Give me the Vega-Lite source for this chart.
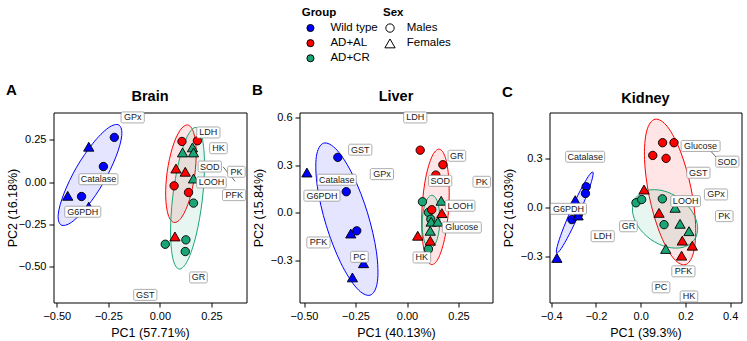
{
  "$schema": "https://vega.github.io/schema/vega-lite/v6.json",
  "autosize": {"type": "pad"},
  "padding": {"left": 5.5, "top": 6.5, "right": 0, "bottom": 0},
  "background": "white",
  "datasets": {
    "pts": [
      {"panel": "Brain", "group": "Wild type", "sex": "Males", "x": -0.221, "y": 0.264},
      {"panel": "Brain", "group": "Wild type", "sex": "Females", "x": -0.345, "y": 0.209},
      {"panel": "Brain", "group": "Wild type", "sex": "Males", "x": -0.274, "y": 0.092},
      {"panel": "Brain", "group": "Wild type", "sex": "Females", "x": -0.447, "y": -0.081},
      {"panel": "Brain", "group": "Wild type", "sex": "Males", "x": -0.38, "y": -0.085},
      {"panel": "Brain", "group": "Wild type", "sex": "Females", "x": -0.345, "y": -0.145},
      {"panel": "Brain", "group": "AD+AL", "sex": "Males", "x": 0.107, "y": 0.24},
      {"panel": "Brain", "group": "AD+AL", "sex": "Males", "x": 0.182, "y": 0.244},
      {"panel": "Brain", "group": "AD+AL", "sex": "Males", "x": 0.069, "y": -0.022},
      {"panel": "Brain", "group": "AD+AL", "sex": "Males", "x": 0.139, "y": -0.061},
      {"panel": "Brain", "group": "AD+AL", "sex": "Females", "x": 0.078, "y": 0.08},
      {"panel": "Brain", "group": "AD+AL", "sex": "Females", "x": 0.123, "y": 0.061},
      {"panel": "Brain", "group": "AD+AL", "sex": "Females", "x": 0.073, "y": -0.321},
      {"panel": "Brain", "group": "AD+CR", "sex": "Males", "x": 0.163, "y": -0.124},
      {"panel": "Brain", "group": "AD+CR", "sex": "Males", "x": 0.026, "y": -0.367},
      {"panel": "Brain", "group": "AD+CR", "sex": "Males", "x": 0.126, "y": -0.341},
      {"panel": "Brain", "group": "AD+CR", "sex": "Males", "x": 0.123, "y": -0.41},
      {"panel": "Brain", "group": "AD+CR", "sex": "Females", "x": 0.11, "y": 0.175},
      {"panel": "Brain", "group": "AD+CR", "sex": "Females", "x": 0.158, "y": 0.205},
      {"panel": "Brain", "group": "AD+CR", "sex": "Females", "x": 0.163, "y": 0.175},
      {"panel": "Brain", "group": "AD+CR", "sex": "Females", "x": 0.163, "y": 0.021},
      {"panel": "Liver", "group": "Wild type", "sex": "Males", "x": -0.336, "y": 0.348},
      {"panel": "Liver", "group": "Wild type", "sex": "Females", "x": -0.486, "y": 0.253},
      {"panel": "Liver", "group": "Wild type", "sex": "Males", "x": -0.295, "y": 0.133},
      {"panel": "Liver", "group": "Wild type", "sex": "Males", "x": -0.244, "y": -0.112},
      {"panel": "Liver", "group": "Wild type", "sex": "Females", "x": -0.273, "y": -0.129},
      {"panel": "Liver", "group": "Wild type", "sex": "Females", "x": -0.211, "y": -0.315},
      {"panel": "Liver", "group": "Wild type", "sex": "Females", "x": -0.265, "y": -0.404},
      {"panel": "Liver", "group": "AD+CR", "sex": "Males", "x": 0.075, "y": 0.07},
      {"panel": "Liver", "group": "AD+CR", "sex": "Males", "x": 0.104, "y": 0.003},
      {"panel": "Liver", "group": "AD+CR", "sex": "Males", "x": 0.1155, "y": -0.039},
      {"panel": "Liver", "group": "AD+CR", "sex": "Males", "x": 0.104, "y": -0.227},
      {"panel": "Liver", "group": "AD+CR", "sex": "Females", "x": 0.166, "y": 0.076},
      {"panel": "Liver", "group": "AD+CR", "sex": "Females", "x": 0.117, "y": -0.055},
      {"panel": "Liver", "group": "AD+CR", "sex": "Females", "x": 0.1495, "y": -0.055},
      {"panel": "Liver", "group": "AD+CR", "sex": "Females", "x": 0.1126, "y": -0.112},
      {"panel": "Liver", "group": "AD+AL", "sex": "Males", "x": 0.064, "y": 0.393},
      {"panel": "Liver", "group": "AD+AL", "sex": "Males", "x": 0.174, "y": 0.302},
      {"panel": "Liver", "group": "AD+AL", "sex": "Males", "x": 0.14, "y": 0.237},
      {"panel": "Liver", "group": "AD+AL", "sex": "Males", "x": 0.12, "y": 0.02},
      {"panel": "Liver", "group": "AD+AL", "sex": "Females", "x": 0.169, "y": -0.001},
      {"panel": "Liver", "group": "AD+AL", "sex": "Females", "x": 0.052, "y": -0.143},
      {"panel": "Liver", "group": "AD+AL", "sex": "Females", "x": 0.113, "y": -0.174},
      {"panel": "Kidney", "group": "Wild type", "sex": "Males", "x": -0.244, "y": 0.126},
      {"panel": "Kidney", "group": "Wild type", "sex": "Males", "x": -0.247, "y": 0.085},
      {"panel": "Kidney", "group": "Wild type", "sex": "Males", "x": -0.308, "y": -0.075},
      {"panel": "Kidney", "group": "Wild type", "sex": "Males", "x": -0.279, "y": -0.046},
      {"panel": "Kidney", "group": "Wild type", "sex": "Females", "x": -0.293, "y": 0.044},
      {"panel": "Kidney", "group": "Wild type", "sex": "Females", "x": -0.28, "y": -0.05},
      {"panel": "Kidney", "group": "Wild type", "sex": "Females", "x": -0.375, "y": -0.31},
      {"panel": "Kidney", "group": "AD+CR", "sex": "Males", "x": -0.021, "y": 0.028},
      {"panel": "Kidney", "group": "AD+CR", "sex": "Males", "x": 0.0045, "y": 0.048},
      {"panel": "Kidney", "group": "AD+CR", "sex": "Males", "x": 0.097, "y": 0.052},
      {"panel": "Kidney", "group": "AD+CR", "sex": "Males", "x": 0.1045, "y": -0.106},
      {"panel": "Kidney", "group": "AD+CR", "sex": "Females", "x": 0.154, "y": -0.003},
      {"panel": "Kidney", "group": "AD+CR", "sex": "Females", "x": 0.176, "y": -0.101},
      {"panel": "Kidney", "group": "AD+CR", "sex": "Females", "x": 0.216, "y": -0.146},
      {"panel": "Kidney", "group": "AD+CR", "sex": "Females", "x": 0.112, "y": -0.255},
      {"panel": "Kidney", "group": "AD+AL", "sex": "Males", "x": 0.098, "y": 0.396},
      {"panel": "Kidney", "group": "AD+AL", "sex": "Males", "x": 0.149, "y": 0.396},
      {"panel": "Kidney", "group": "AD+AL", "sex": "Males", "x": 0.054, "y": 0.318},
      {"panel": "Kidney", "group": "AD+AL", "sex": "Males", "x": 0.1135, "y": 0.3},
      {"panel": "Kidney", "group": "AD+AL", "sex": "Females", "x": 0.015, "y": 0.109},
      {"panel": "Kidney", "group": "AD+AL", "sex": "Females", "x": 0.082, "y": -0.034},
      {"panel": "Kidney", "group": "AD+AL", "sex": "Females", "x": 0.186, "y": -0.204},
      {"panel": "Kidney", "group": "AD+AL", "sex": "Females", "x": 0.231, "y": -0.235},
      {"panel": "Kidney", "group": "AD+AL", "sex": "Females", "x": 0.183, "y": -0.296}
    ],
    "ell": [
      {"panel": "Brain", "group": "Wild type", "i": 0, "x": -0.199, "y": 0.337},
      {"panel": "Brain", "group": "Wild type", "i": 1, "x": -0.185, "y": 0.2745},
      {"panel": "Brain", "group": "Wild type", "i": 2, "x": -0.213, "y": 0.15},
      {"panel": "Brain", "group": "Wild type", "i": 3, "x": -0.274, "y": -0.004},
      {"panel": "Brain", "group": "Wild type", "i": 4, "x": -0.353, "y": -0.145},
      {"panel": "Brain", "group": "Wild type", "i": 5, "x": -0.428, "y": -0.2365},
      {"panel": "Brain", "group": "Wild type", "i": 6, "x": -0.479, "y": -0.253},
      {"panel": "Brain", "group": "Wild type", "i": 7, "x": -0.493, "y": -0.1905},
      {"panel": "Brain", "group": "Wild type", "i": 8, "x": -0.465, "y": -0.066},
      {"panel": "Brain", "group": "Wild type", "i": 9, "x": -0.404, "y": 0.088},
      {"panel": "Brain", "group": "Wild type", "i": 10, "x": -0.325, "y": 0.229},
      {"panel": "Brain", "group": "Wild type", "i": 11, "x": -0.25, "y": 0.3205},
      {"panel": "Brain", "group": "AD+AL", "i": 0, "x": 0.1347, "y": 0.3375},
      {"panel": "Brain", "group": "AD+AL", "i": 1, "x": 0.1636, "y": 0.2932},
      {"panel": "Brain", "group": "AD+AL", "i": 2, "x": 0.176, "y": 0.1837},
      {"panel": "Brain", "group": "AD+AL", "i": 3, "x": 0.1686, "y": 0.0382},
      {"panel": "Brain", "group": "AD+AL", "i": 4, "x": 0.1433, "y": -0.1043},
      {"panel": "Brain", "group": "AD+AL", "i": 5, "x": 0.107, "y": -0.2056},
      {"panel": "Brain", "group": "AD+AL", "i": 6, "x": 0.0693, "y": -0.2385},
      {"panel": "Brain", "group": "AD+AL", "i": 7, "x": 0.0404, "y": -0.1942},
      {"panel": "Brain", "group": "AD+AL", "i": 8, "x": 0.028, "y": -0.0847},
      {"panel": "Brain", "group": "AD+AL", "i": 9, "x": 0.0354, "y": 0.0608},
      {"panel": "Brain", "group": "AD+AL", "i": 10, "x": 0.0607, "y": 0.2033},
      {"panel": "Brain", "group": "AD+AL", "i": 11, "x": 0.097, "y": 0.3046},
      {"panel": "Brain", "group": "AD+CR", "i": 0, "x": 0.1746, "y": 0.3225},
      {"panel": "Brain", "group": "AD+CR", "i": 1, "x": 0.205, "y": 0.2613},
      {"panel": "Brain", "group": "AD+CR", "i": 2, "x": 0.2163, "y": 0.1045},
      {"panel": "Brain", "group": "AD+CR", "i": 3, "x": 0.2056, "y": -0.1059},
      {"panel": "Brain", "group": "AD+CR", "i": 4, "x": 0.1757, "y": -0.3135},
      {"panel": "Brain", "group": "AD+CR", "i": 5, "x": 0.1346, "y": -0.4627},
      {"panel": "Brain", "group": "AD+CR", "i": 6, "x": 0.0934, "y": -0.5135},
      {"panel": "Brain", "group": "AD+CR", "i": 7, "x": 0.063, "y": -0.4523},
      {"panel": "Brain", "group": "AD+CR", "i": 8, "x": 0.0517, "y": -0.2955},
      {"panel": "Brain", "group": "AD+CR", "i": 9, "x": 0.0624, "y": -0.0851},
      {"panel": "Brain", "group": "AD+CR", "i": 10, "x": 0.0923, "y": 0.1225},
      {"panel": "Brain", "group": "AD+CR", "i": 11, "x": 0.1334, "y": 0.2717},
      {"panel": "Liver", "group": "Wild type", "i": 0, "x": -0.405, "y": 0.437},
      {"panel": "Liver", "group": "Wild type", "i": 1, "x": -0.3399, "y": 0.3931},
      {"panel": "Liver", "group": "Wild type", "i": 2, "x": -0.2618, "y": 0.2334},
      {"panel": "Liver", "group": "Wild type", "i": 3, "x": -0.1918, "y": 0.0007},
      {"panel": "Liver", "group": "Wild type", "i": 4, "x": -0.1486, "y": -0.2426},
      {"panel": "Liver", "group": "Wild type", "i": 5, "x": -0.1439, "y": -0.4313},
      {"panel": "Liver", "group": "Wild type", "i": 6, "x": -0.1789, "y": -0.515},
      {"panel": "Liver", "group": "Wild type", "i": 7, "x": -0.2441, "y": -0.4711},
      {"panel": "Liver", "group": "Wild type", "i": 8, "x": -0.3222, "y": -0.3114},
      {"panel": "Liver", "group": "Wild type", "i": 9, "x": -0.3922, "y": -0.0787},
      {"panel": "Liver", "group": "Wild type", "i": 10, "x": -0.4354, "y": 0.1646},
      {"panel": "Liver", "group": "Wild type", "i": 11, "x": -0.4401, "y": 0.3533},
      {"panel": "Liver", "group": "AD+AL", "i": 0, "x": 0.156, "y": 0.3995},
      {"panel": "Liver", "group": "AD+AL", "i": 1, "x": 0.1858, "y": 0.3483},
      {"panel": "Liver", "group": "AD+AL", "i": 2, "x": 0.2028, "y": 0.214},
      {"panel": "Liver", "group": "AD+AL", "i": 3, "x": 0.2024, "y": 0.0324},
      {"panel": "Liver", "group": "AD+AL", "i": 4, "x": 0.1848, "y": -0.1476},
      {"panel": "Liver", "group": "AD+AL", "i": 5, "x": 0.1546, "y": -0.2779},
      {"panel": "Liver", "group": "AD+AL", "i": 6, "x": 0.12, "y": -0.3235},
      {"panel": "Liver", "group": "AD+AL", "i": 7, "x": 0.0902, "y": -0.2723},
      {"panel": "Liver", "group": "AD+AL", "i": 8, "x": 0.0732, "y": -0.138},
      {"panel": "Liver", "group": "AD+AL", "i": 9, "x": 0.0736, "y": 0.0436},
      {"panel": "Liver", "group": "AD+AL", "i": 10, "x": 0.0912, "y": 0.2236},
      {"panel": "Liver", "group": "AD+AL", "i": 11, "x": 0.1214, "y": 0.3539},
      {"panel": "Liver", "group": "AD+CR", "i": 0, "x": 0.1205, "y": 0.111},
      {"panel": "Liver", "group": "AD+CR", "i": 1, "x": 0.1414, "y": 0.0886},
      {"panel": "Liver", "group": "AD+CR", "i": 2, "x": 0.1555, "y": 0.0275},
      {"panel": "Liver", "group": "AD+CR", "i": 3, "x": 0.1592, "y": -0.056},
      {"panel": "Liver", "group": "AD+CR", "i": 4, "x": 0.1515, "y": -0.1395},
      {"panel": "Liver", "group": "AD+CR", "i": 5, "x": 0.1344, "y": -0.2006},
      {"panel": "Liver", "group": "AD+CR", "i": 6, "x": 0.1125, "y": -0.223},
      {"panel": "Liver", "group": "AD+CR", "i": 7, "x": 0.0916, "y": -0.2006},
      {"panel": "Liver", "group": "AD+CR", "i": 8, "x": 0.0775, "y": -0.1395},
      {"panel": "Liver", "group": "AD+CR", "i": 9, "x": 0.0738, "y": -0.056},
      {"panel": "Liver", "group": "AD+CR", "i": 10, "x": 0.0815, "y": 0.0275},
      {"panel": "Liver", "group": "AD+CR", "i": 11, "x": 0.0986, "y": 0.0886},
      {"panel": "Kidney", "group": "Wild type", "i": 0, "x": -0.2146, "y": 0.2163},
      {"panel": "Kidney", "group": "Wild type", "i": 1, "x": -0.2162, "y": 0.1775},
      {"panel": "Kidney", "group": "Wild type", "i": 2, "x": -0.239, "y": 0.0826},
      {"panel": "Kidney", "group": "Wild type", "i": 3, "x": -0.2767, "y": -0.0429},
      {"panel": "Kidney", "group": "Wild type", "i": 4, "x": -0.3194, "y": -0.1654},
      {"panel": "Kidney", "group": "Wild type", "i": 5, "x": -0.3554, "y": -0.2521},
      {"panel": "Kidney", "group": "Wild type", "i": 6, "x": -0.3754, "y": -0.2797},
      {"panel": "Kidney", "group": "Wild type", "i": 7, "x": -0.3738, "y": -0.2409},
      {"panel": "Kidney", "group": "Wild type", "i": 8, "x": -0.351, "y": -0.146},
      {"panel": "Kidney", "group": "Wild type", "i": 9, "x": -0.3133, "y": -0.0205},
      {"panel": "Kidney", "group": "Wild type", "i": 10, "x": -0.2706, "y": 0.102},
      {"panel": "Kidney", "group": "Wild type", "i": 11, "x": -0.2346, "y": 0.1887},
      {"panel": "Kidney", "group": "AD+AL", "i": 0, "x": 0.0644, "y": 0.5396},
      {"panel": "Kidney", "group": "AD+AL", "i": 1, "x": 0.1201, "y": 0.4932},
      {"panel": "Kidney", "group": "AD+AL", "i": 2, "x": 0.1787, "y": 0.3398},
      {"panel": "Kidney", "group": "AD+AL", "i": 3, "x": 0.2247, "y": 0.1206},
      {"panel": "Kidney", "group": "AD+AL", "i": 4, "x": 0.2457, "y": -0.1058},
      {"panel": "Kidney", "group": "AD+AL", "i": 5, "x": 0.2361, "y": -0.2786},
      {"panel": "Kidney", "group": "AD+AL", "i": 6, "x": 0.1984, "y": -0.3516},
      {"panel": "Kidney", "group": "AD+AL", "i": 7, "x": 0.1427, "y": -0.3052},
      {"panel": "Kidney", "group": "AD+AL", "i": 8, "x": 0.0841, "y": -0.1518},
      {"panel": "Kidney", "group": "AD+AL", "i": 9, "x": 0.0381, "y": 0.0674},
      {"panel": "Kidney", "group": "AD+AL", "i": 10, "x": 0.0171, "y": 0.2938},
      {"panel": "Kidney", "group": "AD+AL", "i": 11, "x": 0.0267, "y": 0.4666},
      {"panel": "Kidney", "group": "AD+CR", "i": 0, "x": 0.24, "y": -0.1992},
      {"panel": "Kidney", "group": "AD+CR", "i": 1, "x": 0.19, "y": -0.2446},
      {"panel": "Kidney", "group": "AD+CR", "i": 2, "x": 0.1184, "y": -0.2433},
      {"panel": "Kidney", "group": "AD+CR", "i": 3, "x": 0.0442, "y": -0.1958},
      {"panel": "Kidney", "group": "AD+CR", "i": 4, "x": -0.0126, "y": -0.1147},
      {"panel": "Kidney", "group": "AD+CR", "i": 5, "x": -0.0368, "y": -0.022},
      {"panel": "Kidney", "group": "AD+CR", "i": 6, "x": -0.022, "y": 0.0578},
      {"panel": "Kidney", "group": "AD+CR", "i": 7, "x": 0.028, "y": 0.1032},
      {"panel": "Kidney", "group": "AD+CR", "i": 8, "x": 0.0996, "y": 0.1019},
      {"panel": "Kidney", "group": "AD+CR", "i": 9, "x": 0.1738, "y": 0.0544},
      {"panel": "Kidney", "group": "AD+CR", "i": 10, "x": 0.2306, "y": -0.0267},
      {"panel": "Kidney", "group": "AD+CR", "i": 11, "x": 0.2548, "y": -0.1194}
    ],
    "labs": [
      {"panel": "Brain", "label": "GPx", "x": -0.132, "y": 0.382},
      {"panel": "Brain", "label": "Catalase", "x": -0.298, "y": 0.017},
      {"panel": "Brain", "label": "G6PDH", "x": -0.374, "y": -0.175},
      {"panel": "Brain", "label": "GST", "x": -0.071, "y": -0.666},
      {"panel": "Brain", "label": "LDH", "x": 0.235, "y": 0.293},
      {"panel": "Brain", "label": "HK", "x": 0.284, "y": 0.2},
      {"panel": "Brain", "label": "SOD", "x": 0.242, "y": 0.092},
      {"panel": "Brain", "label": "PK", "x": 0.371, "y": 0.061},
      {"panel": "Brain", "label": "LOOH", "x": 0.25, "y": -0.002},
      {"panel": "Brain", "label": "PFK", "x": 0.36, "y": -0.077},
      {"panel": "Brain", "label": "GR", "x": 0.187, "y": -0.563},
      {"panel": "Liver", "label": "LDH", "x": 0.04, "y": 0.598},
      {"panel": "Liver", "label": "GST", "x": -0.227, "y": 0.396},
      {"panel": "Liver", "label": "GPx", "x": -0.122, "y": 0.243},
      {"panel": "Liver", "label": "Catalase", "x": -0.341, "y": 0.208},
      {"panel": "Liver", "label": "G6PDH", "x": -0.413, "y": 0.108},
      {"panel": "Liver", "label": "PFK", "x": -0.43, "y": -0.185},
      {"panel": "Liver", "label": "PC", "x": -0.231, "y": -0.275},
      {"panel": "Liver", "label": "GR", "x": 0.242, "y": 0.358},
      {"panel": "Liver", "label": "SOD", "x": 0.161, "y": 0.201},
      {"panel": "Liver", "label": "PK", "x": 0.363, "y": 0.195},
      {"panel": "Liver", "label": "LOOH", "x": 0.258, "y": 0.045},
      {"panel": "Liver", "label": "Glucose", "x": 0.266, "y": -0.091},
      {"panel": "Liver", "label": "HK", "x": 0.072, "y": -0.279},
      {"panel": "Kidney", "label": "Catalase", "x": -0.2485, "y": 0.31},
      {"panel": "Kidney", "label": "G6PDH", "x": -0.323, "y": -0.009},
      {"panel": "Kidney", "label": "LDH", "x": -0.17, "y": -0.177},
      {"panel": "Kidney", "label": "GR", "x": -0.055, "y": -0.116},
      {"panel": "Kidney", "label": "Glucose", "x": 0.268, "y": 0.376},
      {"panel": "Kidney", "label": "SOD", "x": 0.3875, "y": 0.28},
      {"panel": "Kidney", "label": "GST", "x": 0.258, "y": 0.212},
      {"panel": "Kidney", "label": "GPx", "x": 0.337, "y": 0.079},
      {"panel": "Kidney", "label": "LOOH", "x": 0.201, "y": 0.038},
      {"panel": "Kidney", "label": "PK", "x": 0.374, "y": -0.054},
      {"panel": "Kidney", "label": "PFK", "x": 0.191, "y": -0.392},
      {"panel": "Kidney", "label": "PC", "x": 0.091, "y": -0.49},
      {"panel": "Kidney", "label": "HK", "x": 0.216, "y": -0.546}
    ],
    "segs": [
      {"panel": "Brain", "x": 0.3065, "y": 0.0905, "x2": 0.332, "y2": 0.051},
      {"panel": "Brain", "x": 0.344, "y": 0.037, "x2": 0.3645, "y2": 0.004},
      {"panel": "Kidney", "x": 0.313, "y": 0.345, "x2": 0.337, "y2": 0.308}
    ]
  },
  "spacing": 8,
  "hconcat": [
    {
      "spacing": 3,
      "hconcat": [
        {
          "title": {"text": "A", "anchor": "start", "frame": "bounds", "fontSize": 15, "offset": 0, "dy": 9},
          "hconcat": [
            {
              "width": 193,
              "height": 190,
              "title": "Brain",
              "encoding": {
                "x": {"field": "x", "type": "quantitative", "scale": {"domain": [-0.516, 0.42], "nice": false, "zero": false}, "axis": {"title": "PC1 (57.71%)", "values": [-0.5, -0.25, 0, 0.25], "format": ".2f"}},
                "y": {"field": "y", "type": "quantitative", "scale": {"domain": [-0.711, 0.411], "nice": false, "zero": false}, "axis": {"title": "PC2 (16.18%)", "values": [-0.5, -0.25, 0, 0.25], "format": ".2f"}}
              },
              "layer": [
                {
                  "data": {"name": "ell"},
                  "transform": [{"filter": {"field": "panel", "equal": "Brain"}}],
                  "mark": {"type": "line", "interpolate": "cardinal-closed", "strokeWidth": 1, "fillOpacity": 0.1},
                  "encoding": {
                    "stroke": {"field": "group", "type": "nominal", "scale": {"domain": ["AD+AL", "AD+CR", "Wild type"], "range": ["#FF0000", "#1AA575", "#0000FF"]}, "legend": null},
                    "fill": {"field": "group", "type": "nominal", "scale": {"domain": ["AD+AL", "AD+CR", "Wild type"], "range": ["#FF0000", "#1AA575", "#0000FF"]}, "legend": null},
                    "order": {"field": "i", "type": "quantitative"}
                  }
                },
                {
                  "data": {"name": "pts"},
                  "transform": [{"filter": {"field": "panel", "equal": "Brain"}}],
                  "mark": {"type": "point", "filled": true, "opacity": 1, "stroke": "black", "strokeWidth": 0.9},
                  "encoding": {
                    "color": {"field": "group", "type": "nominal", "scale": {"domain": ["Wild type", "AD+AL", "AD+CR"], "range": ["#0000FF", "#FF0000", "#1AA575"]}, "legend": {"title": "Group", "orient": "none", "legendX": 248.2, "legendY": -105.5, "symbolType": "circle", "symbolSize": 50, "symbolOffset": 3, "labelOffset": 14.2, "rowPadding": 2.1, "symbolStrokeColor": "black", "symbolStrokeWidth": 1}},
                    "shape": {"field": "sex", "type": "nominal", "scale": {"domain": ["Males", "Females"], "range": ["circle", "triangle-up"]}, "legend": {"title": "Sex", "orient": "none", "legendX": 329.5, "legendY": -105.5, "symbolOffset": 1, "labelOffset": 10.75, "rowPadding": 2.1, "symbolFillColor": "transparent", "symbolStrokeColor": "black", "symbolStrokeWidth": 1}},
                    "size": {"field": "sex", "type": "nominal", "scale": {"type": "ordinal", "domain": ["Males", "Females"], "range": [70, 105]}, "legend": {"title": "Sex", "orient": "none", "legendX": 329.5, "legendY": -105.5, "symbolOffset": 1, "labelOffset": 10.75, "rowPadding": 2.1, "symbolFillColor": "transparent", "symbolStrokeColor": "black", "symbolStrokeWidth": 1}}
                  }
                },
                {
                  "data": {"name": "segs"},
                  "transform": [{"filter": {"field": "panel", "equal": "Brain"}}],
                  "mark": {"type": "rule", "color": "black", "strokeWidth": 0.6},
                  "encoding": {"x2": {"field": "x2"}, "y2": {"field": "y2"}}
                },
                {
                  "data": {"name": "labs"},
                  "transform": [{"filter": {"and": [{"field": "panel", "equal": "Brain"}, {"field": "label", "oneOf": ["HK", "PK", "GR", "PC"]}]}}],
                  "mark": {"type": "point", "shape": "M-7.3,-5.5H7.3A1.5,1.5 0 0 1 8.8,-4V4A1.5,1.5 0 0 1 7.3,5.5H-7.3A1.5,1.5 0 0 1 -8.8,4V-4A1.5,1.5 0 0 1 -7.3,-5.5Z", "size": 4, "filled": true, "fill": "white", "stroke": "#8a8a8a", "strokeWidth": 0.7, "opacity": 1}
                },
                {
                  "data": {"name": "labs"},
                  "transform": [{"filter": {"and": [{"field": "panel", "equal": "Brain"}, {"field": "label", "oneOf": ["GPx", "GST", "LDH", "SOD", "PFK"]}]}}],
                  "mark": {"type": "point", "shape": "M-10.1,-5.5H10.1A1.5,1.5 0 0 1 11.6,-4V4A1.5,1.5 0 0 1 10.1,5.5H-10.1A1.5,1.5 0 0 1 -11.6,4V-4A1.5,1.5 0 0 1 -10.1,-5.5Z", "size": 4, "filled": true, "fill": "white", "stroke": "#8a8a8a", "strokeWidth": 0.7, "opacity": 1}
                },
                {
                  "data": {"name": "labs"},
                  "transform": [{"filter": {"and": [{"field": "panel", "equal": "Brain"}, {"field": "label", "equal": "LOOH"}]}}],
                  "mark": {"type": "point", "shape": "M-13.3,-5.5H13.3A1.5,1.5 0 0 1 14.8,-4V4A1.5,1.5 0 0 1 13.3,5.5H-13.3A1.5,1.5 0 0 1 -14.8,4V-4A1.5,1.5 0 0 1 -13.3,-5.5Z", "size": 4, "filled": true, "fill": "white", "stroke": "#8a8a8a", "strokeWidth": 0.7, "opacity": 1}
                },
                {
                  "data": {"name": "labs"},
                  "transform": [{"filter": {"and": [{"field": "panel", "equal": "Brain"}, {"field": "label", "equal": "G6PDH"}]}}],
                  "mark": {"type": "point", "shape": "M-16.5,-5.5H16.5A1.5,1.5 0 0 1 18,-4V4A1.5,1.5 0 0 1 16.5,5.5H-16.5A1.5,1.5 0 0 1 -18,4V-4A1.5,1.5 0 0 1 -16.5,-5.5Z", "size": 4, "filled": true, "fill": "white", "stroke": "#8a8a8a", "strokeWidth": 0.7, "opacity": 1}
                },
                {
                  "data": {"name": "labs"},
                  "transform": [{"filter": {"and": [{"field": "panel", "equal": "Brain"}, {"field": "label", "oneOf": ["Catalase", "Glucose"]}]}}],
                  "mark": {"type": "point", "shape": "M-18,-5.5H18A1.5,1.5 0 0 1 19.5,-4V4A1.5,1.5 0 0 1 18,5.5H-18A1.5,1.5 0 0 1 -19.5,4V-4A1.5,1.5 0 0 1 -18,-5.5Z", "size": 4, "filled": true, "fill": "white", "stroke": "#8a8a8a", "strokeWidth": 0.7, "opacity": 1}
                },
                {
                  "data": {"name": "labs"},
                  "transform": [{"filter": {"field": "panel", "equal": "Brain"}}],
                  "mark": {"type": "text", "fontSize": 9, "color": "#1a1a1a"},
                  "encoding": {"text": {"field": "label"}}
                }
              ]
            }
          ]
        },
        {
          "title": {"text": "B", "anchor": "start", "frame": "bounds", "fontSize": 15, "offset": 0, "dy": 9},
          "hconcat": [
            {
              "width": 193,
              "height": 190,
              "title": "Liver",
              "encoding": {
                "x": {"field": "x", "type": "quantitative", "scale": {"domain": [-0.522, 0.415], "nice": false, "zero": false}, "axis": {"title": "PC1 (40.13%)", "values": [-0.5, -0.25, 0, 0.25], "format": ".2f"}},
                "y": {"field": "y", "type": "quantitative", "scale": {"domain": [-0.561, 0.629], "nice": false, "zero": false}, "axis": {"title": "PC2 (15.84%)", "values": [-0.3, 0, 0.3, 0.6], "format": ".1f"}}
              },
              "layer": [
                {
                  "data": {"name": "ell"},
                  "transform": [{"filter": {"field": "panel", "equal": "Liver"}}],
                  "mark": {"type": "line", "interpolate": "cardinal-closed", "strokeWidth": 1, "fillOpacity": 0.1},
                  "encoding": {
                    "stroke": {"field": "group", "type": "nominal", "scale": {"domain": ["AD+AL", "AD+CR", "Wild type"], "range": ["#FF0000", "#1AA575", "#0000FF"]}, "legend": null},
                    "fill": {"field": "group", "type": "nominal", "scale": {"domain": ["AD+AL", "AD+CR", "Wild type"], "range": ["#FF0000", "#1AA575", "#0000FF"]}, "legend": null},
                    "order": {"field": "i", "type": "quantitative"}
                  }
                },
                {
                  "data": {"name": "pts"},
                  "transform": [{"filter": {"field": "panel", "equal": "Liver"}}],
                  "mark": {"type": "point", "filled": true, "opacity": 1, "stroke": "black", "strokeWidth": 0.9},
                  "encoding": {
                    "color": {"field": "group", "type": "nominal", "scale": {"domain": ["Wild type", "AD+AL", "AD+CR"], "range": ["#0000FF", "#FF0000", "#1AA575"]}, "legend": {"title": "Group", "orient": "none", "legendX": 248.2, "legendY": -105.5, "symbolType": "circle", "symbolSize": 50, "symbolOffset": 3, "labelOffset": 14.2, "rowPadding": 2.1, "symbolStrokeColor": "black", "symbolStrokeWidth": 1}},
                    "shape": {"field": "sex", "type": "nominal", "scale": {"domain": ["Males", "Females"], "range": ["circle", "triangle-up"]}, "legend": {"title": "Sex", "orient": "none", "legendX": 329.5, "legendY": -105.5, "symbolOffset": 1, "labelOffset": 10.75, "rowPadding": 2.1, "symbolFillColor": "transparent", "symbolStrokeColor": "black", "symbolStrokeWidth": 1}},
                    "size": {"field": "sex", "type": "nominal", "scale": {"type": "ordinal", "domain": ["Males", "Females"], "range": [70, 105]}, "legend": {"title": "Sex", "orient": "none", "legendX": 329.5, "legendY": -105.5, "symbolOffset": 1, "labelOffset": 10.75, "rowPadding": 2.1, "symbolFillColor": "transparent", "symbolStrokeColor": "black", "symbolStrokeWidth": 1}}
                  }
                },
                {
                  "data": {"name": "labs"},
                  "transform": [{"filter": {"and": [{"field": "panel", "equal": "Liver"}, {"field": "label", "oneOf": ["HK", "PK", "GR", "PC"]}]}}],
                  "mark": {"type": "point", "shape": "M-7.3,-5.5H7.3A1.5,1.5 0 0 1 8.8,-4V4A1.5,1.5 0 0 1 7.3,5.5H-7.3A1.5,1.5 0 0 1 -8.8,4V-4A1.5,1.5 0 0 1 -7.3,-5.5Z", "size": 4, "filled": true, "fill": "white", "stroke": "#8a8a8a", "strokeWidth": 0.7, "opacity": 1}
                },
                {
                  "data": {"name": "labs"},
                  "transform": [{"filter": {"and": [{"field": "panel", "equal": "Liver"}, {"field": "label", "oneOf": ["GPx", "GST", "LDH", "SOD", "PFK"]}]}}],
                  "mark": {"type": "point", "shape": "M-10.1,-5.5H10.1A1.5,1.5 0 0 1 11.6,-4V4A1.5,1.5 0 0 1 10.1,5.5H-10.1A1.5,1.5 0 0 1 -11.6,4V-4A1.5,1.5 0 0 1 -10.1,-5.5Z", "size": 4, "filled": true, "fill": "white", "stroke": "#8a8a8a", "strokeWidth": 0.7, "opacity": 1}
                },
                {
                  "data": {"name": "labs"},
                  "transform": [{"filter": {"and": [{"field": "panel", "equal": "Liver"}, {"field": "label", "equal": "LOOH"}]}}],
                  "mark": {"type": "point", "shape": "M-13.3,-5.5H13.3A1.5,1.5 0 0 1 14.8,-4V4A1.5,1.5 0 0 1 13.3,5.5H-13.3A1.5,1.5 0 0 1 -14.8,4V-4A1.5,1.5 0 0 1 -13.3,-5.5Z", "size": 4, "filled": true, "fill": "white", "stroke": "#8a8a8a", "strokeWidth": 0.7, "opacity": 1}
                },
                {
                  "data": {"name": "labs"},
                  "transform": [{"filter": {"and": [{"field": "panel", "equal": "Liver"}, {"field": "label", "equal": "G6PDH"}]}}],
                  "mark": {"type": "point", "shape": "M-16.5,-5.5H16.5A1.5,1.5 0 0 1 18,-4V4A1.5,1.5 0 0 1 16.5,5.5H-16.5A1.5,1.5 0 0 1 -18,4V-4A1.5,1.5 0 0 1 -16.5,-5.5Z", "size": 4, "filled": true, "fill": "white", "stroke": "#8a8a8a", "strokeWidth": 0.7, "opacity": 1}
                },
                {
                  "data": {"name": "labs"},
                  "transform": [{"filter": {"and": [{"field": "panel", "equal": "Liver"}, {"field": "label", "oneOf": ["Catalase", "Glucose"]}]}}],
                  "mark": {"type": "point", "shape": "M-18,-5.5H18A1.5,1.5 0 0 1 19.5,-4V4A1.5,1.5 0 0 1 18,5.5H-18A1.5,1.5 0 0 1 -19.5,4V-4A1.5,1.5 0 0 1 -18,-5.5Z", "size": 4, "filled": true, "fill": "white", "stroke": "#8a8a8a", "strokeWidth": 0.7, "opacity": 1}
                },
                {
                  "data": {"name": "labs"},
                  "transform": [{"filter": {"field": "panel", "equal": "Liver"}}],
                  "mark": {"type": "text", "fontSize": 9, "color": "#1a1a1a"},
                  "encoding": {"text": {"field": "label"}}
                }
              ]
            }
          ]
        }
      ]
    },
    {
      "title": {"text": "C", "anchor": "start", "frame": "bounds", "fontSize": 15, "offset": 0, "dy": 9},
      "hconcat": [
        {
          "width": 192,
          "height": 190,
          "title": "Kidney",
          "encoding": {
            "x": {"field": "x", "type": "quantitative", "scale": {"domain": [-0.408, 0.451], "nice": false, "zero": false}, "axis": {"title": "PC1 (39.3%)", "values": [-0.4, -0.2, 0, 0.2, 0.4], "format": ".1f"}},
            "y": {"field": "y", "type": "quantitative", "scale": {"domain": [-0.583, 0.581], "nice": false, "zero": false}, "axis": {"title": "PC2 (16.03%)", "values": [-0.3, 0, 0.3], "format": ".1f"}}
          },
          "layer": [
            {
              "data": {"name": "ell"},
              "transform": [{"filter": {"field": "panel", "equal": "Kidney"}}],
              "mark": {"type": "line", "interpolate": "cardinal-closed", "strokeWidth": 1, "fillOpacity": 0.1},
              "encoding": {
                "stroke": {"field": "group", "type": "nominal", "scale": {"domain": ["AD+AL", "AD+CR", "Wild type"], "range": ["#FF0000", "#1AA575", "#0000FF"]}, "legend": null},
                "fill": {"field": "group", "type": "nominal", "scale": {"domain": ["AD+AL", "AD+CR", "Wild type"], "range": ["#FF0000", "#1AA575", "#0000FF"]}, "legend": null},
                "order": {"field": "i", "type": "quantitative"}
              }
            },
            {
              "data": {"name": "pts"},
              "transform": [{"filter": {"field": "panel", "equal": "Kidney"}}],
              "mark": {"type": "point", "filled": true, "opacity": 1, "stroke": "black", "strokeWidth": 0.9},
              "encoding": {
                "color": {"field": "group", "type": "nominal", "scale": {"domain": ["Wild type", "AD+AL", "AD+CR"], "range": ["#0000FF", "#FF0000", "#1AA575"]}, "legend": {"title": "Group", "orient": "none", "legendX": 248.2, "legendY": -105.5, "symbolType": "circle", "symbolSize": 50, "symbolOffset": 3, "labelOffset": 14.2, "rowPadding": 2.1, "symbolStrokeColor": "black", "symbolStrokeWidth": 1}},
                "shape": {"field": "sex", "type": "nominal", "scale": {"domain": ["Males", "Females"], "range": ["circle", "triangle-up"]}, "legend": {"title": "Sex", "orient": "none", "legendX": 329.5, "legendY": -105.5, "symbolOffset": 1, "labelOffset": 10.75, "rowPadding": 2.1, "symbolFillColor": "transparent", "symbolStrokeColor": "black", "symbolStrokeWidth": 1}},
                "size": {"field": "sex", "type": "nominal", "scale": {"type": "ordinal", "domain": ["Males", "Females"], "range": [70, 105]}, "legend": {"title": "Sex", "orient": "none", "legendX": 329.5, "legendY": -105.5, "symbolOffset": 1, "labelOffset": 10.75, "rowPadding": 2.1, "symbolFillColor": "transparent", "symbolStrokeColor": "black", "symbolStrokeWidth": 1}}
              }
            },
            {
              "data": {"name": "segs"},
              "transform": [{"filter": {"field": "panel", "equal": "Kidney"}}],
              "mark": {"type": "rule", "color": "black", "strokeWidth": 0.6},
              "encoding": {"x2": {"field": "x2"}, "y2": {"field": "y2"}}
            },
            {
              "data": {"name": "labs"},
              "transform": [{"filter": {"and": [{"field": "panel", "equal": "Kidney"}, {"field": "label", "oneOf": ["HK", "PK", "GR", "PC"]}]}}],
              "mark": {"type": "point", "shape": "M-7.3,-5.5H7.3A1.5,1.5 0 0 1 8.8,-4V4A1.5,1.5 0 0 1 7.3,5.5H-7.3A1.5,1.5 0 0 1 -8.8,4V-4A1.5,1.5 0 0 1 -7.3,-5.5Z", "size": 4, "filled": true, "fill": "white", "stroke": "#8a8a8a", "strokeWidth": 0.7, "opacity": 1}
            },
            {
              "data": {"name": "labs"},
              "transform": [{"filter": {"and": [{"field": "panel", "equal": "Kidney"}, {"field": "label", "oneOf": ["GPx", "GST", "LDH", "SOD", "PFK"]}]}}],
              "mark": {"type": "point", "shape": "M-10.1,-5.5H10.1A1.5,1.5 0 0 1 11.6,-4V4A1.5,1.5 0 0 1 10.1,5.5H-10.1A1.5,1.5 0 0 1 -11.6,4V-4A1.5,1.5 0 0 1 -10.1,-5.5Z", "size": 4, "filled": true, "fill": "white", "stroke": "#8a8a8a", "strokeWidth": 0.7, "opacity": 1}
            },
            {
              "data": {"name": "labs"},
              "transform": [{"filter": {"and": [{"field": "panel", "equal": "Kidney"}, {"field": "label", "equal": "LOOH"}]}}],
              "mark": {"type": "point", "shape": "M-13.3,-5.5H13.3A1.5,1.5 0 0 1 14.8,-4V4A1.5,1.5 0 0 1 13.3,5.5H-13.3A1.5,1.5 0 0 1 -14.8,4V-4A1.5,1.5 0 0 1 -13.3,-5.5Z", "size": 4, "filled": true, "fill": "white", "stroke": "#8a8a8a", "strokeWidth": 0.7, "opacity": 1}
            },
            {
              "data": {"name": "labs"},
              "transform": [{"filter": {"and": [{"field": "panel", "equal": "Kidney"}, {"field": "label", "equal": "G6PDH"}]}}],
              "mark": {"type": "point", "shape": "M-16.5,-5.5H16.5A1.5,1.5 0 0 1 18,-4V4A1.5,1.5 0 0 1 16.5,5.5H-16.5A1.5,1.5 0 0 1 -18,4V-4A1.5,1.5 0 0 1 -16.5,-5.5Z", "size": 4, "filled": true, "fill": "white", "stroke": "#8a8a8a", "strokeWidth": 0.7, "opacity": 1}
            },
            {
              "data": {"name": "labs"},
              "transform": [{"filter": {"and": [{"field": "panel", "equal": "Kidney"}, {"field": "label", "oneOf": ["Catalase", "Glucose"]}]}}],
              "mark": {"type": "point", "shape": "M-18,-5.5H18A1.5,1.5 0 0 1 19.5,-4V4A1.5,1.5 0 0 1 18,5.5H-18A1.5,1.5 0 0 1 -19.5,4V-4A1.5,1.5 0 0 1 -18,-5.5Z", "size": 4, "filled": true, "fill": "white", "stroke": "#8a8a8a", "strokeWidth": 0.7, "opacity": 1}
            },
            {
              "data": {"name": "labs"},
              "transform": [{"filter": {"field": "panel", "equal": "Kidney"}}],
              "mark": {"type": "text", "fontSize": 9, "color": "#1a1a1a"},
              "encoding": {"text": {"field": "label"}}
            }
          ]
        }
      ]
    }
  ],
  "config": {
    "font": "Liberation Sans",
    "view": {"stroke": "black", "strokeWidth": 1},
    "axis": {"domain": false, "grid": false, "ticks": true, "tickColor": "black", "tickSize": 4.5, "tickWidth": 1, "labelColor": "black", "labelFontSize": 11, "labelPadding": 3, "labelFlush": false, "titleColor": "black", "titleFontSize": 12.5, "titleFontWeight": "normal"},
    "axisY": {"minExtent": 32, "maxExtent": 32, "titlePadding": 2},
    "axisX": {"titlePadding": 5},
    "legend": {"labelFontSize": 11.5, "titleFontSize": 11.5, "titleFontWeight": "bold", "labelColor": "black", "titleColor": "black", "padding": 0, "rowPadding": 2.1, "titlePadding": 3.8, "direction": "vertical"},
    "title": {"fontSize": 14.5, "fontWeight": "bold", "color": "black", "baseline": "alphabetic", "offset": 6, "frame": "group", "anchor": "middle"}
  }
}
